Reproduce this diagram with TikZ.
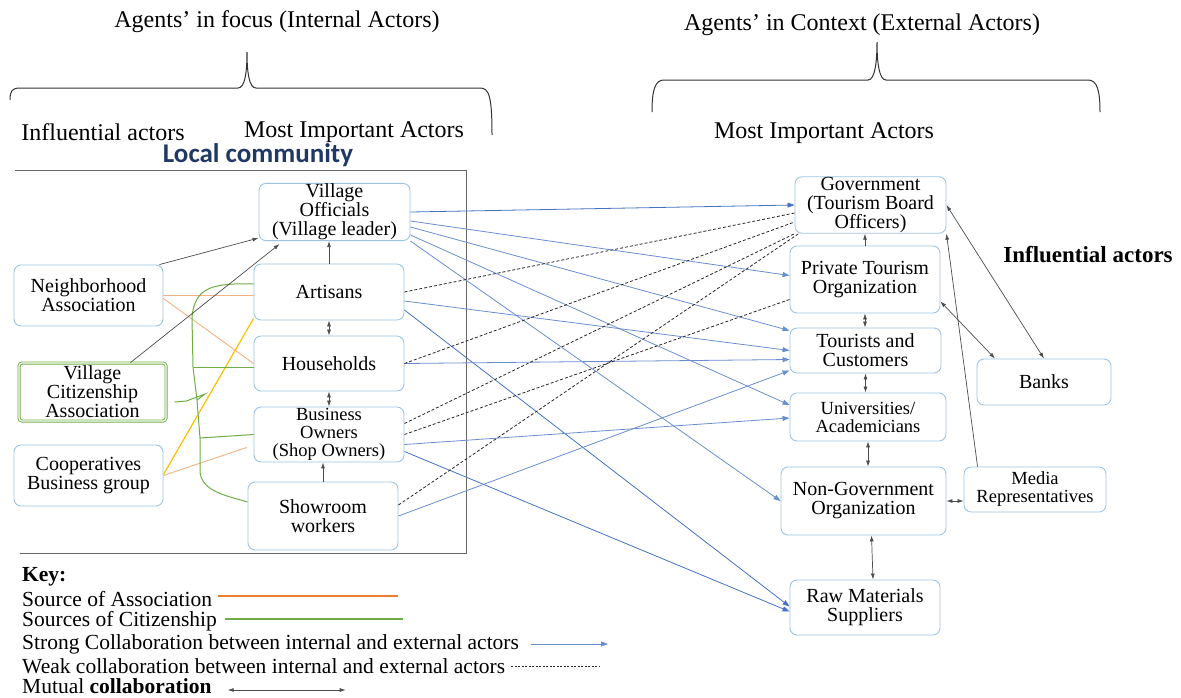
\documentclass[tikz,border=0pt]{standalone}
\usepackage{fontspec}
\setmainfont{Liberation Serif}
\newfontfamily\calibri{Carlito}
\usepackage{tikz}
\usetikzlibrary{arrows.meta}
\definecolor{boxblue}{HTML}{9DC3E6}
\definecolor{strongblue}{HTML}{4472C4}
\definecolor{assoc}{HTML}{F4B183}
\definecolor{assockey}{HTML}{ED7D31}
\definecolor{citgreen}{HTML}{70AD47}
\definecolor{coopgold}{HTML}{FFC000}
\definecolor{navy}{HTML}{1F3864}

\begin{document}
\begin{tikzpicture}[x=1pt,y=-1pt,
  actor/.style={draw=boxblue, rounded corners=7pt, line width=0.9pt, align=center, inner sep=0.5pt, font=\fontsize{20}{19}\selectfont},
  small/.style={font=\fontsize{18.5}{18}\selectfont},
  strong/.style={draw=strongblue!80, line width=0.8pt, arrows={-Triangle[length=7pt,width=5pt]}},
  strongdark/.style={strong, draw=strongblue},
  weak/.style={draw=black!85, line width=0.8pt, dash pattern=on 3pt off 2pt},
  link/.style={draw=black!70, line width=0.7pt, arrows={-Latex[length=6pt,width=4pt]}},
  mutual/.style={draw=black!70, line width=0.7pt, arrows={Latex[length=6pt,width=4pt]-Latex[length=6pt,width=4pt]}},
  assocline/.style={draw=assoc, line width=0.9pt},
  keyassoc/.style={draw=assockey, line width=1.3pt},
  citline/.style={draw=citgreen, line width=1pt},
  keycit/.style={draw=citgreen, line width=1.3pt},
  coopline/.style={draw=coopgold, line width=1.2pt},
  brace/.style={draw=black!80, line width=1pt},
  frame/.style={draw=black!60, line width=0.9pt},
  heading/.style={font=\fontsize{24}{26}\selectfont},
  keytext/.style={anchor=west, inner sep=0pt, font=\fontsize{21.5}{22}\selectfont}
  ]
  \useasboundingbox (0,0) rectangle (1181,697);

  % Headings and braces
  \node[heading] (focus) at (277,22) {Agents’ in focus (Internal Actors)};
  \node[heading] (context) at (862,25) {Agents’ in Context (External Actors)};
  \draw[brace] (10,100) .. controls (10,91) and (12,88) .. (20,88) -- (238,88)
    .. controls (245,88) and (247,72) .. (247,52)
    .. controls (247,72) and (249,88) .. (256,88) -- (480,88)
    .. controls (489,88) and (492,96) .. (492,135);
  \draw[brace] (652,112) .. controls (652,90) and (655,80) .. (664,80) -- (868,80)
    .. controls (875,80) and (877,62) .. (877,42)
    .. controls (877,62) and (879,80) .. (886,80) -- (1088,80)
    .. controls (1097,80) and (1100,90) .. (1100,112);
  \node[heading] (inflin) at (103,132) {Influential actors};
  \node[heading] (mostin) at (354,132) {Most Important Actors};
  \node[heading] (mostex) at (824,133) {Most Important Actors};
  \node[font=\calibri\bfseries\fontsize{27}{29}\selectfont, text=navy] (local) at (258,155) {Local community};
  \node[font=\bfseries\fontsize{23}{25}\selectfont] (inflex) at (1088,255) {Influential actors};

  % Local community frame
  \draw[frame] (15,170) -- (466,170) -- (466,553) -- (20,553);

  % Internal actors
  \node[actor, minimum width=149pt, minimum height=61pt] (neigh) at (88.5,295.5) {Neighborhood\\Association};
  \node[actor, draw=citgreen, double, double distance=1.2pt, rounded corners=3pt, minimum width=147pt, minimum height=58pt] (citizen) at (92.5,392) {Village\\Citizenship\\Association};
  \node[actor, minimum width=149pt, minimum height=61pt] (coop) at (88.5,475.5) {Cooperatives\\Business group};
  \node[actor, minimum width=151pt, minimum height=56pt] (officials) at (334.5,212) {Village\\Officials\\(Village leader)};
  \node[actor, minimum width=150pt, minimum height=56pt] (artisans) at (329,292) {Artisans};
  \node[actor, minimum width=150pt, minimum height=55pt] (house) at (329,363.5) {Households};
  \node[actor, small, minimum width=150pt, minimum height=55pt] (business) at (329,434.5) {Business\\Owners\\(Shop Owners)};
  \node[actor, minimum width=150pt, minimum height=68pt] (showroom) at (323,516) {Showroom\\workers};

  % External actors
  \node[actor, minimum width=151pt, minimum height=56pt] (gov) at (870.5,205) {Government\\(Tourism Board\\Officers)};
  \node[actor, minimum width=150pt, minimum height=67pt] (private) at (865,279.5) {Private Tourism\\Organization};
  \node[actor, minimum width=151pt, minimum height=45pt] (tourists) at (865.5,350.5) {Tourists and\\Customers};
  \node[actor, small, minimum width=156pt, minimum height=48pt] (univ) at (868,417) {Universities/\\Academicians};
  \node[actor, minimum width=165pt, minimum height=68pt] (ngo) at (863.5,501) {Non-Government\\Organization};
  \node[actor, minimum width=150pt, minimum height=55pt] (raw) at (865,607.5) {Raw Materials\\Suppliers};
  \node[actor, minimum width=134pt, minimum height=46pt] (banks) at (1044,382) {Banks};
  \node[actor, small, minimum width=142pt, minimum height=45pt] (media) at (1035,489.5) {Media\\Representatives};

  % Sources of association and citizenship
  \draw[assocline] (neigh.east) -- (neigh.east -| artisans.west);
  \draw[assocline] ([yshift=-3pt]neigh.east) -- (house.west);
  \draw[assocline] (coop.east) -- ([xshift=-7pt,yshift=-13pt]business.west);
  \draw[coopline] ([yshift=1pt]coop.east) -- ([yshift=2pt]artisans.south west);
  \coordinate (gtop) at (192,318);
  \coordinate (ghouse) at (193,367);
  \coordinate (gcit) at (197,400);
  \coordinate (gbus) at (200,438);
  \coordinate (gbot) at (200,472);
  \draw[citline] ([yshift=8pt]artisans.west) .. controls (215,283) and (194,286) .. (gtop)
    -- (ghouse) -- (gcit) -- (gbus) -- (gbot)
    .. controls (202,492) and (228,496) .. ([yshift=14pt]showroom.west);
  \draw[citline] (ghouse) -- (house.west |- ghouse);
  \draw[citline] (gbus) -- (business.west);
  \draw[citline] ([xshift=8pt,yshift=-10pt]citizen.east) -- ++(12,-1) -- (205,394) -- (gcit);

  % Links inside the community
  \draw[link] ([xshift=-4pt]neigh.north east) -- ([yshift=3pt]officials.south west);
  \draw[link] ([xshift=38pt]citizen.north) -- ([xshift=21pt,yshift=-3pt]officials.south west);
  \draw[link] (artisans.north) -- (artisans.north |- officials.south);
  \draw[mutual] (artisans.south) -- (house.north);
  \draw[mutual] (house.south) -- (business.north);
  \draw[link] (showroom.north) -- (showroom.north |- business.south);

  % Strong collaboration
  \draw[strongdark] (officials.east) -- (gov.west);
  \draw[strong] ([yshift=-9pt]officials.east) -- ([yshift=4pt]private.west);
  \draw[strong] ([yshift=-15pt]officials.east) -- ([yshift=-3pt]tourists.north west);
  \draw[strong] ([yshift=-23pt]officials.east) -- ([yshift=12pt]univ.west);
  \draw[strong] (officials.south east) -- (ngo.west);
  \draw[strong] ([yshift=-9pt]artisans.east) -- (tourists.west);
  \draw[strongdark] ([yshift=-18pt]artisans.east) -- ([yshift=1pt]raw.west);
  \draw[strong] (house.east) -- ([yshift=-9pt]tourists.west);
  \draw[strong] ([yshift=-10pt]business.east) -- ([yshift=-1pt]univ.west);
  \draw[strongdark] ([yshift=-17pt]business.east) -- ([yshift=-4pt]raw.west);
  \draw[strong] (showroom.east) -- ([yshift=-20pt]tourists.west);

  % Weak collaboration
  \draw[weak] (artisans.east) -- ([yshift=-8pt]gov.west);
  \draw[weak] (house.east) -- ([yshift=-17pt]gov.west);
  \draw[weak] ([yshift=11pt]business.east) -- (gov.south west);
  \draw[weak] (business.east) -- ([yshift=-20pt]private.west);
  \draw[weak] ([yshift=11pt]showroom.east) -- ([xshift=4pt]gov.south west);

  % Links among external actors
  \draw[link] (private.north) -- (private.north |- gov.south);
  \draw[mutual] (private.south) -- (private.south |- tourists.north);
  \draw[mutual] (tourists.south) -- (tourists.south |- univ.north);
  \draw[mutual] (univ.south) -- (univ.south |- ngo.north);
  \draw[mutual] ([xshift=8pt]ngo.south) -- ([xshift=8pt]raw.north);
  \draw[mutual] (ngo.east) -- (ngo.east -| media.west);
  \draw[link] ([xshift=14pt]media.north west) -- (gov.south east);
  \draw[mutual] (gov.east) -- (banks.north);
  \draw[mutual] ([yshift=-22pt]private.east) -- ([xshift=-49pt]banks.north);

  % Key
  \node[keytext, font=\bfseries\fontsize{21.5}{22}\selectfont] (key) at (22,577) {Key:};
  \node[keytext] (kassoc) at (22,599) {Source of Association};
  \node[keytext] (kcit) at (22,621) {Sources of Citizenship};
  \node[keytext] (kstrong) at (22,644) {Strong Collaboration between internal and external actors};
  \node[keytext] (kweak) at (22,666) {Weak collaboration between internal and external actors};
  \node[keytext] (kmutual) at (22,686) {Mutual \textbf{collaboration}};
  \draw[keyassoc] ([xshift=6pt,yshift=3pt]kassoc.east) -- ++(180,0);
  \draw[keycit] ([xshift=8pt,yshift=2pt]kcit.east) -- ++(178,0);
  \draw[strong] ([xshift=12pt]kstrong.east) -- ++(77,0);
  \draw[weak, dash pattern=on 2pt off 1.5pt] ([xshift=6pt]kweak.east) -- ++(88,0);
  \draw[mutual] ([xshift=16pt,yshift=-4pt]kmutual.east) -- ++(118,0);

\end{tikzpicture}
\end{document}
